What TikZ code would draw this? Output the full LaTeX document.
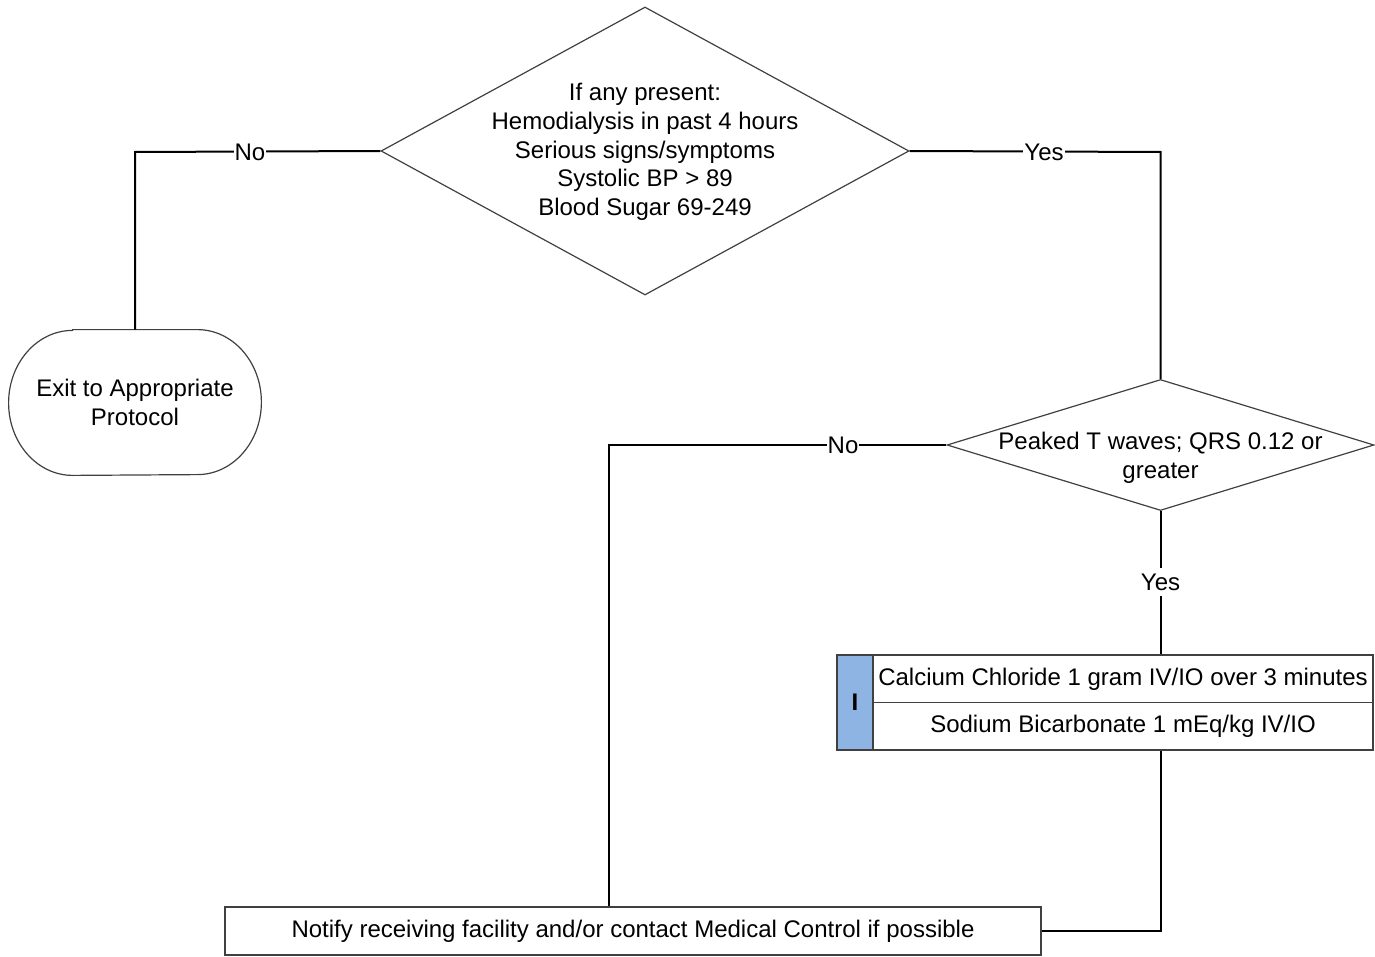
\documentclass[tikz,border=0pt]{standalone}
\usepackage{fontspec}
\setmainfont{Liberation Sans}
\usetikzlibrary{shapes.geometric}
\definecolor{stripblue}{HTML}{8EB4E3}
\definecolor{outl}{HTML}{404040}
\begin{document}
\begin{tikzpicture}[x=0.5pt,y=-0.5pt,
  shapeline/.style={draw=outl, line width=0.6pt},
  conn/.style={line width=1pt, black},
  lbl/.style={fill=white, inner xsep=0.5pt, inner ysep=1.5pt, font=\fontsize{12}{14.3}\selectfont},
  txt/.style={align=center, font=\fontsize{12}{14.3}\selectfont, inner sep=0pt},
]
\useasboundingbox (0,0) rectangle (1375,957);
% decision 1
\node[diamond, shapeline, minimum width=264pt, minimum height=144pt, inner sep=0pt] (d1) at (645,151) {};
\node[txt] (d1t) at (645,152) {If any present:\\Hemodialysis in past 4 hours\\Serious signs/symptoms\\Systolic BP > 89\\Blood Sugar 69-249};
% exit terminator
\node[minimum width=126pt, minimum height=72.5pt, inner sep=0pt] (exit) at (135,402.5) {};
\draw[shapeline] ([xshift=32pt]exit.north west) -- ([xshift=-32pt]exit.north east)
  arc[start angle=90, end angle=-90, x radius=32pt, y radius=36.25pt]
  -- ([xshift=32pt]exit.south west)
  arc[start angle=270, end angle=90, x radius=32pt, y radius=36.25pt] -- cycle;
\node[txt] (exitt) at (exit) {Exit to Appropriate\\Protocol};
% decision 2
\node[diamond, shapeline, minimum width=213.5pt, minimum height=65.5pt, inner sep=0pt] (d2) at (1160.5,445) {};
\node[txt] (d2t) at (1160.5,458) {Peaked T waves; QRS 0.12 or\\greater};
% medication box
\node[rectangle, shapeline, minimum width=268pt, minimum height=47.5pt, inner sep=0pt] (med) at (1105,702.5) {};
\node[rectangle, fill=stripblue, shapeline, minimum width=18pt, minimum height=47.5pt, inner sep=0pt, anchor=north west, font=\fontsize{12}{14.3}\selectfont\bfseries] (strip) at (med.north west) {I};
\draw[shapeline] (strip.east) -- (med.east);
\node[txt] (r1) at (1123,679) {Calcium Chloride 1 gram IV/IO over 3 minutes};
\node[txt] (r2) at (1123,726) {Sodium Bicarbonate 1 mEq/kg IV/IO};
% notify box
\node[rectangle, shapeline, minimum width=408pt, minimum height=24pt, inner sep=0pt, font=\fontsize{12}{14.3}\selectfont] (note) at (633,931) {Notify receiving facility and/or contact Medical Control if possible};
% connectors
\coordinate (c1) at (135,152);
\draw[conn] (d1.west) -- (c1) -- (exit.north);
\node[lbl] (no1) at (250,152) {No};
\coordinate (c2) at (1160.5,152);
\draw[conn] (d1.east) -- (c2) -- (d2.north);
\node[lbl] (yes1) at (1044,152) {Yes};
\coordinate (c3) at (609,445);
\draw[conn] (d2.west) -- (c3) -- (c3 |- note.north);
\node[lbl] (no2) at (843,445) {No};
\draw[conn] (d2.south) -- (d2.south |- med.north);
\node[lbl, inner ysep=3pt] (yes2) at (1160.5,582) {Yes};
\draw[conn] (d2.south |- med.south) -- (d2.south |- note.east) -- (note.east);
\end{tikzpicture}
\end{document}
